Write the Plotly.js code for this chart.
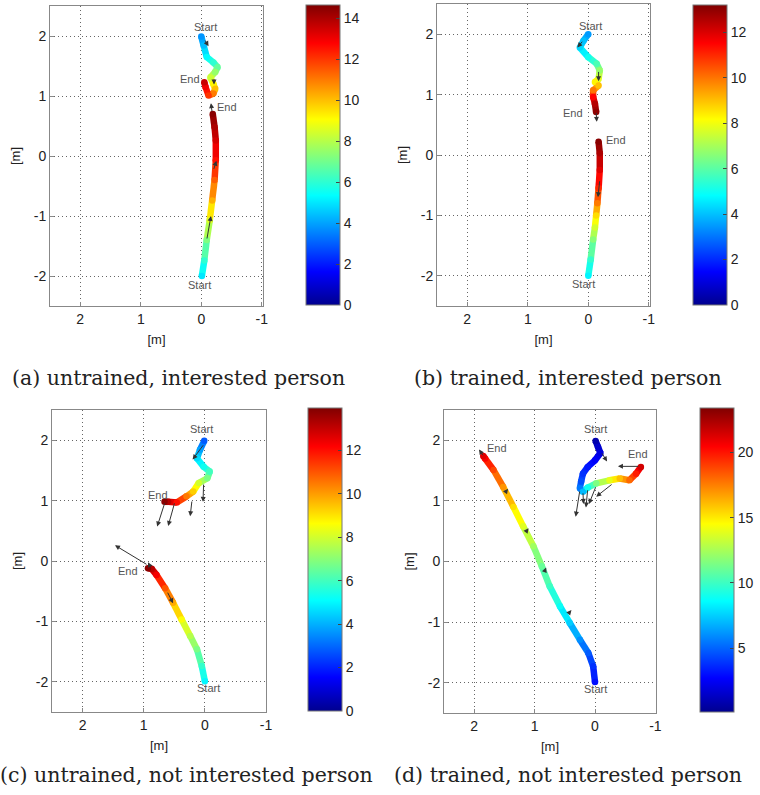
<!DOCTYPE html>
<html><head><meta charset="utf-8">
<script src="https://cdn.plot.ly/plotly-3.0.1.min.js"></script>
<style>body{margin:0;background:#fff}#chart{width:760px;height:795px}</style>
</head><body><div id="chart"></div>
<script>
// ---------------- DATA ----------------
// (a) untrained, interested person
const aX1 = [0.00, -0.04, -0.09, -0.20, -0.27, -0.23, -0.15, -0.20, -0.23, -0.20, -0.12, -0.07, -0.05];
const aY1 = [1.99, 1.84, 1.65, 1.56, 1.48, 1.40, 1.31, 1.20, 1.12, 1.04, 1.01, 1.15, 1.23];
const aT1 = [3.8, 4.4, 5.3, 6.0, 6.8, 7.5, 8.3, 9.2, 10.0, 11.0, 12.0, 13.0, 13.6];
const aX2 = [-0.01, -0.05, -0.09, -0.14, -0.18, -0.22, -0.24, -0.24, -0.22, -0.19];
const aY2 = [-2.00, -1.74, -1.40, -1.07, -0.74, -0.40, -0.07, 0.26, 0.48, 0.70];
const aT2 = [5.0, 6.0, 7.2, 8.6, 10.2, 11.4, 12.6, 13.4, 14.0, 14.5];
const aArrTailX = [-0.05, -0.21, -0.18, -0.20, -0.09];
const aArrTailY = [1.95, 1.30, 0.72, -0.24, -1.40];
const aArrHeadX = [-0.12, -0.21, -0.16, -0.25, -0.16];
const aArrHeadY = [1.83, 1.19, 0.88, -0.08, -1.00];
const aLblText = ['Start', 'End', 'End', 'Start'];
const aLblX = [-0.07, 0.19, -0.42, 0.03];
const aLblY = [2.15, 1.28, 0.82, -2.15];
const aCbTicks = [0, 2, 4, 6, 8, 10, 12, 14];

// (b) trained, interested person
const bX1 = [0.00, 0.08, 0.14, 0.00, -0.14, -0.19, -0.17, -0.11, -0.17, -0.08, -0.08, -0.11, -0.13];
const bY1 = [2.00, 1.89, 1.78, 1.62, 1.51, 1.40, 1.26, 1.21, 1.15, 1.07, 0.96, 0.85, 0.71];
const bT1 = [3.5, 4.0, 4.3, 5.0, 5.8, 6.8, 7.8, 8.3, 9.0, 10.0, 11.5, 12.5, 13.0];
const bX2 = [0.00, -0.04, -0.08, -0.11, -0.13, -0.15, -0.17, -0.19, -0.19, -0.17];
const bY2 = [-2.00, -1.73, -1.40, -1.20, -1.00, -0.80, -0.55, -0.25, 0.03, 0.22];
const bT2 = [4.7, 5.5, 6.6, 7.6, 8.6, 9.9, 11.0, 11.9, 12.6, 13.1];
const bArrTailX = [0.08, -0.17, -0.13, -0.19];
const bArrTailY = [1.90, 1.40, 0.72, -0.41];
const bArrHeadX = [0.18, -0.17, -0.14, -0.16];
const bArrHeadY = [1.78, 1.22, 0.55, -0.70];
const bLblText = ['Start', 'End', 'End', 'Start'];
const bLblX = [-0.03, 0.26, -0.46, 0.08];
const bLblY = [2.14, 0.70, 0.25, -2.13];
const bCbTicks = [0, 2, 4, 6, 8, 10, 12];

// (c) untrained, not interested person
const cX1 = [0.01, 0.08, 0.13, 0.02, -0.08, -0.04, 0.10, 0.19, 0.30, 0.46, 0.60, 0.66];
const cY1 = [1.99, 1.84, 1.70, 1.56, 1.48, 1.37, 1.29, 1.15, 1.07, 0.97, 0.98, 0.98];
const cT1 = [2.8, 3.8, 4.6, 5.3, 6.0, 6.8, 8.0, 9.3, 10.5, 12.0, 13.2, 13.8];
const cX2 = [0.00, 0.05, 0.13, 0.24, 0.38, 0.52, 0.65, 0.79, 0.87, 0.93];
const cY2 = [-1.99, -1.74, -1.46, -1.24, -0.97, -0.69, -0.45, -0.23, -0.13, -0.12];
const cT2 = [5.0, 5.8, 6.8, 7.6, 8.6, 9.8, 11.0, 12.3, 13.2, 13.8];
const cArrTailX = [0.01, 0.02, 0.21, 0.49, 0.65, 0.93, 0.88, 0.62];
const cArrTailY = [1.94, 1.29, 1.01, 0.98, 0.98, -0.07, -0.12, -0.50];
const cArrHeadX = [0.20, 0.03, 0.24, 0.60, 0.78, 1.47, 0.93, 0.52];
const cArrHeadY = [1.68, 0.98, 0.74, 0.58, 0.57, 0.26, -0.02, -0.70];
const cLblText = ['Start', 'End', 'End', 'Start'];
const cLblX = [0.05, 0.76, 1.25, -0.06];
const cLblY = [2.18, 1.09, -0.17, -2.10];
const cCbTicks = [0, 2, 4, 6, 8, 10, 12];

// (d) trained, not interested person
const dX1 = [0.00, 0.03, 0.11, 0.25, 0.42, 0.58, 0.75, 0.88, 1.02, 1.19, 1.35, 1.52, 1.68, 1.82, 1.85];
const dY1 = [-1.99, -1.73, -1.51, -1.29, -1.01, -0.74, -0.41, -0.08, 0.25, 0.58, 0.90, 1.23, 1.51, 1.70, 1.74];
const dT1 = [3.0, 3.8, 4.8, 6.0, 7.5, 8.8, 10.0, 11.0, 12.3, 13.8, 15.3, 17.0, 18.8, 20.5, 21.2];
const dX2 = [-0.01, -0.05, -0.09, 0.00, 0.12, 0.20, 0.23, 0.25, 0.20, 0.12, -0.02, -0.24, -0.41, -0.57, -0.68, -0.76];
const dY2 = [1.99, 1.89, 1.79, 1.67, 1.56, 1.45, 1.32, 1.21, 1.15, 1.22, 1.29, 1.34, 1.37, 1.34, 1.45, 1.56];
const dT2 = [0.8, 1.5, 2.0, 2.6, 3.2, 3.8, 4.5, 5.5, 7.0, 9.0, 11.5, 14.0, 16.0, 18.0, 19.8, 21.5];
const dArrTailX = [-0.10, -0.74, 0.25, 0.20, 0.12, -0.02, -0.30, 1.84, 1.50, 1.16, 0.84, 0.44];
const dArrTailY = [1.81, 1.57, 1.18, 1.15, 1.20, 1.25, 1.29, 1.73, 1.12, 0.47, -0.18, -0.86];
const dArrHeadX = [-0.20, -0.38, 0.32, 0.19, 0.15, 0.10, -0.02, 1.92, 1.44, 1.10, 0.81, 0.39];
const dArrHeadY = [1.65, 1.57, 0.74, 0.95, 0.89, 0.95, 1.07, 1.85, 1.20, 0.55, -0.10, -0.80];
const dLblText = ['Start', 'End', 'End', 'Start'];
const dLblX = [-0.01, 1.62, -0.71, 0.00];
const dLblY = [2.18, 1.88, 1.78, -2.11];
const dCbTicks = [5, 10, 15, 20];

const xTickVals = [2, 1, 0, -1];
const xTickText = ['2', '1', '0', '-1'];
const yTickVals = [-2, -1, 0, 1, 2];
const yTickText = ['-2', '-1', '0', '1', '2'];
const captions = ['(a) untrained, interested person', '(b) trained, interested person',
                  '(c) untrained, not interested person', '(d) trained, not interested person'];
const axisLabel = '[m]';

// ---------------- STYLE / LAYOUT ----------------
const W = 760, H = 795;
const JET_STOPS = [0, 0.111, 0.365, 0.619, 0.873, 1];
const JET_RGB = [[0,0,143],[0,0,255],[0,255,255],[255,255,0],[255,0,0],[128,0,0]];
const JET = JET_STOPS.map((s, i) => [s, 'rgb(' + JET_RGB[i].join(',') + ')']);
function jetColor(v, cmin, cmax) {
  let f = (v - cmin) / (cmax - cmin);
  f = Math.max(0, Math.min(1, f));
  for (let i = 1; i < JET_STOPS.length; i++) {
    if (f <= JET_STOPS[i]) {
      const u = (f - JET_STOPS[i-1]) / (JET_STOPS[i] - JET_STOPS[i-1]);
      const c = JET_RGB[i-1].map((a, k) => Math.round(a + u * (JET_RGB[i][k] - a)));
      return 'rgb(' + c.join(',') + ')';
    }
  }
  return 'rgb(128,0,0)';
}

const panels = [
  {n: 1, xpx: [50, 263], ypx: [6, 306], xr: [2.5, -1.02], cbx: 306, cby: [5, 305], cmin: 0, cmax: 14.65, cbTicks: aCbTicks,
   paths: [[aX1, aY1, aT1], [aX2, aY2, aT2]], arr: [aArrTailX, aArrTailY, aArrHeadX, aArrHeadY], lbl: [aLblText, aLblX, aLblY],
   capX: 178, capY: 378},
  {n: 2, xpx: [437, 650], ypx: [4, 306], xr: [2.5, -1.02], cbx: 693, cby: [5, 305], cmin: 0, cmax: 13.2, cbTicks: bCbTicks,
   paths: [[bX1, bY1, bT1], [bX2, bY2, bT2]], arr: [bArrTailX, bArrTailY, bArrHeadX, bArrHeadY], lbl: [bLblText, bLblX, bLblY],
   capX: 568, capY: 378},
  {n: 3, xpx: [52, 266], ypx: [410, 712], xr: [2.5, -1.0], cbx: 308, cby: [408, 711], cmin: 0, cmax: 13.95, cbTicks: cCbTicks,
   paths: [[cX1, cY1, cT1], [cX2, cY2, cT2]], arr: [cArrTailX, cArrTailY, cArrHeadX, cArrHeadY], lbl: [cLblText, cLblX, cLblY],
   capX: 186, capY: 775},
  {n: 4, xpx: [444, 656], ypx: [410, 713], xr: [2.5, -1.01], cbx: 700, cby: [408, 712], cmin: 0.1, cmax: 23.4, cbTicks: dCbTicks,
   paths: [[dX1, dY1, dT1], [dX2, dY2, dT2]], arr: [dArrTailX, dArrTailY, dArrHeadX, dArrHeadY], lbl: [dLblText, dLblX, dLblY],
   capX: 568, capY: 775}
];

const tickFont = {family: 'Liberation Sans, Arial, sans-serif', size: 14, color: '#222'};
const traces = [];
const annotations = [];
const layout = {
  width: W, height: H, margin: {l: 0, r: 0, t: 0, b: 0},
  paper_bgcolor: '#fff', plot_bgcolor: '#fff', showlegend: false,
  annotations: annotations
};

panels.forEach(p => {
  const xa = 'x' + (p.n === 1 ? '' : p.n), ya = 'y' + (p.n === 1 ? '' : p.n);
  const xk = 'xaxis' + (p.n === 1 ? '' : p.n), yk = 'yaxis' + (p.n === 1 ? '' : p.n);
  const common = {
    showgrid: true, gridcolor: '#666', griddash: '1px,3px', gridwidth: 1, zeroline: false,
    showline: true, mirror: true, linecolor: '#888', linewidth: 1,
    ticks: 'inside', ticklen: 4, tickcolor: '#888', tickfont: tickFont, fixedrange: true
  };
  layout[xk] = Object.assign({}, common, {
    domain: [p.xpx[0] / W, p.xpx[1] / W], range: p.xr, autorange: false, anchor: ya,
    tickvals: xTickVals, ticktext: xTickText,
    title: {text: axisLabel, font: {family: 'Liberation Sans, Arial, sans-serif', size: 13, color: '#222'}, standoff: 9}
  });
  layout[yk] = Object.assign({}, common, {
    domain: [1 - p.ypx[1] / H, 1 - p.ypx[0] / H], range: [-2.5, 2.5], autorange: false, anchor: xa,
    tickvals: yTickVals, ticktext: yTickText,
    title: {text: axisLabel, font: {family: 'Liberation Sans, Arial, sans-serif', size: 13, color: '#222'}, standoff: 10}
  });

  // thick colour-coded trajectories: segment lines + vertex markers
  p.paths.forEach((path, k) => {
    const [px, py, pt] = path;
    for (let i = 0; i < px.length - 1; i++) {
      traces.push({
        type: 'scatter', mode: 'lines', x: [px[i], px[i+1]], y: [py[i], py[i+1]],
        xaxis: xa, yaxis: ya, hoverinfo: 'skip',
        line: {color: jetColor((pt[i] + pt[i+1]) / 2, p.cmin, p.cmax), width: 6.5}
      });
    }
    traces.push({
      type: 'scatter', mode: 'markers', x: px, y: py, xaxis: xa, yaxis: ya,
      marker: {
        size: 6.5, color: pt, colorscale: JET, cmin: p.cmin, cmax: p.cmax, line: {width: 0},
        showscale: k === 0,
        colorbar: {
          x: p.cbx / W, xanchor: 'left', xref: 'paper', xpad: 0, ypad: 0,
          y: 1 - (p.cby[0] + p.cby[1]) / 2 / H, yanchor: 'middle',
          len: p.cby[1] - p.cby[0], lenmode: 'pixels', thickness: 34, thicknessmode: 'pixels',
          outlinewidth: 1, outlinecolor: '#777', tickvals: p.cbTicks, ticktext: p.cbTicks.map(String),
          ticks: 'inside', ticklen: 4, tickcolor: '#444', tickfont: tickFont
        }
      }
    });
  });

  // arrows
  const [tx, ty, hx, hy] = p.arr;
  for (let i = 0; i < tx.length; i++) {
    annotations.push({
      x: hx[i], y: hy[i], ax: tx[i], ay: ty[i], xref: xa, yref: ya, axref: xa, ayref: ya,
      showarrow: true, arrowhead: 2, arrowsize: 1, arrowwidth: 1, arrowcolor: '#333', text: ''
    });
  }
  // Start / End labels
  const [lt, lx, ly] = p.lbl;
  for (let i = 0; i < lt.length; i++) {
    annotations.push({
      x: lx[i], y: ly[i], xref: xa, yref: ya, text: lt[i], showarrow: false,
      font: {family: 'Liberation Sans, Arial, sans-serif', size: 11, color: '#555'}
    });
  }
  // caption
  annotations.push({
    x: p.capX / W, y: 1 - p.capY / H, xref: 'paper', yref: 'paper', xanchor: 'center', yanchor: 'middle',
    text: captions[p.n - 1], showarrow: false,
    font: {family: 'DejaVu Serif, serif', size: 20.5, color: '#222'}
  });
});

Plotly.newPlot('chart', traces, layout, {displayModeBar: false, staticPlot: true});
</script></body></html>
